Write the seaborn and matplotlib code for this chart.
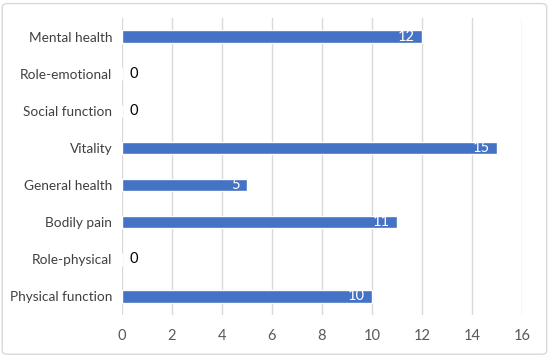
import matplotlib
matplotlib.use("Agg")
import matplotlib.pyplot as plt
from matplotlib.patches import FancyBboxPatch
import seaborn as sns
import pandas as pd

# 数据
categories = ["Mental health", "Role-emotional", "Social function", "Vitality",
              "General health", "Bodily pain", "Role-physical", "Physical function"]
values = [12, 0, 0, 15, 5, 11, 0, 10]
x_ticks = [0, 2, 4, 6, 8, 10, 12, 14, 16]

df = pd.DataFrame({"category": categories, "value": values})

sns.set_theme(style="white")
plt.rcParams['font.family'] = ['Lato', 'DejaVu Sans']

fig = plt.figure(figsize=(5.5, 3.56), dpi=100)
ax = fig.add_axes([122 / 550, 1 - 315 / 356, 400 / 550, 297 / 356])

bar_color = "#4472C4"
sns.barplot(data=df, y="category", x="value", orient="h", color=bar_color,
            width=0.34, saturation=1, ax=ax, zorder=3)

ax.set_xlim(0, 16)
ax.set_ylim(len(categories) - 0.5, -0.5)
ax.set_xticks(x_ticks)
ax.set_xticklabels([str(t) for t in x_ticks])
ax.xaxis.grid(True, color="#D9D9D9", linewidth=1, zorder=0)
ax.yaxis.grid(False)
for s in ax.spines.values():
    s.set_visible(False)
ax.tick_params(axis="x", length=0, labelsize=10.5, colors="#595959", pad=10)
ax.tick_params(axis="y", length=0, labelsize=9.8, colors="#404040", pad=7)
ax.set_xlabel("")
ax.set_ylabel("")

# 数据标签
for i, v in enumerate(values):
    if v > 0:
        ax.text(v - 0.3, i, str(v), ha="right", va="center", color="white", fontsize=10.5, zorder=4)
    else:
        ax.text(0.3, i, str(v), ha="left", va="center", color="black", fontsize=10.5, zorder=4)

# 外框
border = FancyBboxPatch((0.004, 0.005), 0.99, 0.985, boxstyle="round,pad=0,rounding_size=0.01",
                        transform=fig.transFigure, facecolor="none", edgecolor="#D9D9D9",
                        linewidth=1)
fig.patches.append(border)

fig.savefig("out.png", dpi=100)
